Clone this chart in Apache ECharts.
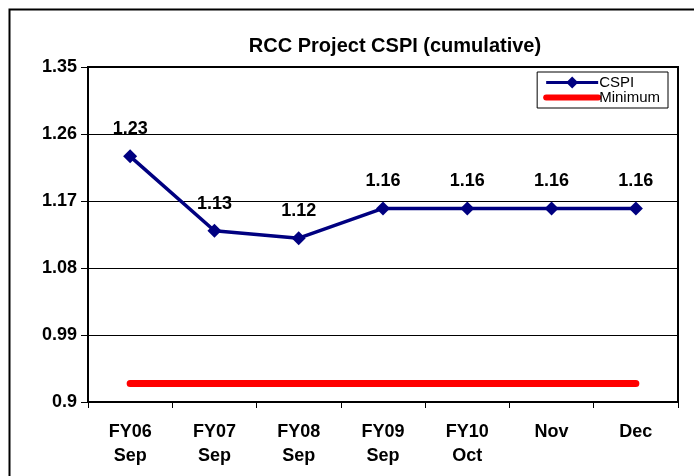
<!DOCTYPE html>
<html>
<head>
<meta charset="utf-8">
<script src="https://cdn.jsdelivr.net/npm/echarts@6/dist/echarts.min.js"></script>
<style>
html, body { margin: 0; padding: 0; background: #fff; }
#main { width: 694px; height: 476px; }
</style>
</head>
<body>
<div id="main"></div>
<script>
// categories and values
var categories = ['FY06\nSep', 'FY07\nSep', 'FY08\nSep', 'FY09\nSep', 'FY10\nOct', 'Nov', 'Dec'];
var cspi = [1.23, 1.13, 1.12, 1.16, 1.16, 1.16, 1.16];
var minimum = [0.925, 0.925, 0.925, 0.925, 0.925, 0.925, 0.925];

var font = 'Liberation Sans, Arial, sans-serif';
var chart = echarts.init(document.getElementById('main'));

chart.setOption({
    backgroundColor: '#fff',
    animation: false,
    title: {
        text: 'RCC Project CSPI (cumulative)',
        left: 390,
        textAlign: 'center',
        top: 31,
        textStyle: { fontFamily: font, fontSize: 20, fontWeight: 'bold', color: '#000' }
    },
    legend: {
        right: 26,
        top: 72,
        orient: 'vertical',
        itemGap: 0,
        itemWidth: 52,
        itemHeight: 15,
        padding: [3, 8, 3, 6],
        borderColor: '#000',
        borderWidth: 1,
        textStyle: { fontFamily: font, fontSize: 15, color: '#000', padding: [0, 0, 0, -4] },
        data: [
            { name: 'CSPI', lineStyle: { width: 3 } },
            { name: 'Minimum', itemStyle: { opacity: 0 }, lineStyle: { width: 6 } }
        ]
    },
    graphic: [{
        type: 'rect',
        shape: { x: 9.5, y: 9.5, width: 720, height: 500 },
        style: { fill: null, stroke: '#000', lineWidth: 2 },
        silent: true
    }],
    grid: {
        left: 88, right: 16, top: 67, bottom: 74,
        show: true, borderColor: '#000', borderWidth: 2, backgroundColor: 'transparent'
    },
    xAxis: {
        type: 'category',
        data: categories,
        boundaryGap: true,
        axisLine: { lineStyle: { color: '#000', width: 2 } },
        axisTick: { show: true, length: 6, lineStyle: { color: '#000' } },
        axisLabel: {
            margin: 18,
            fontFamily: font, fontSize: 18, fontWeight: 'bold', color: '#000',
            lineHeight: 24
        }
    },
    yAxis: {
        type: 'value',
        min: 0.9,
        max: 1.35,
        interval: 0.09,
        axisLine: { show: true, lineStyle: { color: '#000', width: 2 } },
        axisTick: { show: true, length: 7, lineStyle: { color: '#000' } },
        splitLine: { show: true, lineStyle: { color: '#000', width: 1 } },
        axisLabel: {
            margin: 11,
            fontFamily: font, fontSize: 18, fontWeight: 'bold', color: '#000',
            formatter: function (v) { return String(parseFloat(v.toFixed(2))); }
        }
    },
    series: [
        {
            name: 'Minimum',
            type: 'line',
            data: minimum,
            symbol: 'none',
            z: 2,
            itemStyle: { color: '#ff0000' },
            lineStyle: { color: '#ff0000', width: 7, cap: 'round' }
        },
        {
            name: 'CSPI',
            type: 'line',
            data: cspi,
            symbol: 'diamond',
            symbolSize: 14,
            z: 3,
            itemStyle: { color: '#000080' },
            lineStyle: { color: '#000080', width: 3.5 },
            label: {
                show: true,
                position: 'top',
                distance: 11,
                fontFamily: font, fontSize: 18, fontWeight: 'bold', color: '#000',
                formatter: function (p) { return p.value.toFixed(2); }
            }
        }
    ]
});
</script>
</body>
</html>
